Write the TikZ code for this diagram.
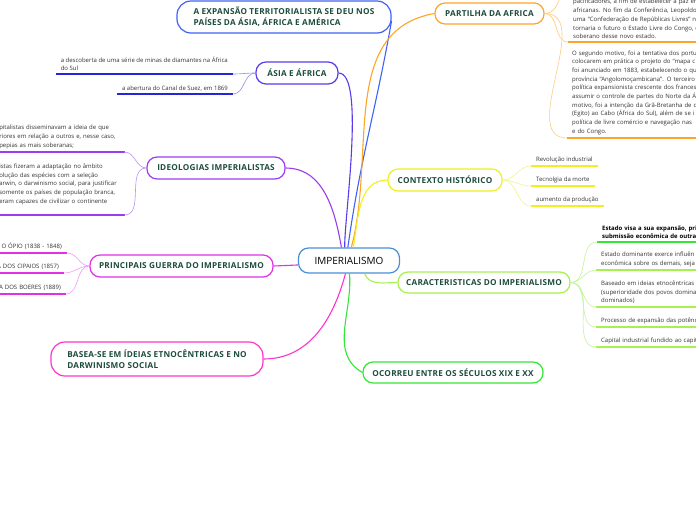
\documentclass[tikz,border=0pt]{standalone}
\usepackage{fontspec}
\setmainfont{Open Sans}
\newfontfamily\titlefam{Open Sans}[LetterSpace=3]
\usetikzlibrary{positioning}

\definecolor{titlegreen}{HTML}{1D4D3C}
\definecolor{leafgray}{HTML}{333333}
\definecolor{impblue}{HTML}{4A8FD6}
\definecolor{expblue}{HTML}{4063F5}
\definecolor{asiaviolet}{HTML}{5B3AEB}
\definecolor{asiablue}{HTML}{2525DD}
\definecolor{asialight}{HTML}{9090F2}
\definecolor{ideopurple}{HTML}{9B3CF0}
\definecolor{ideolight}{HTML}{B994F5}
\definecolor{guerramag}{HTML}{E030E8}
\definecolor{guerralight}{HTML}{F09CF5}
\definecolor{baseapink}{HTML}{FF33CC}
\definecolor{partorange}{HTML}{FFA526}
\definecolor{orangelight}{HTML}{FFCB7D}
\definecolor{ctxyellow}{HTML}{F0F020}
\definecolor{yellowlight}{HTML}{F5F585}
\definecolor{carlime}{HTML}{A8F050}
\definecolor{limelight}{HTML}{C4F39A}
\definecolor{ocogreen}{HTML}{36E636}

\newcommand\titlefont{\titlefam\fontsize{8.2}{11}\selectfont\bfseries}
\newcommand\leaffont{\fontsize{6}{8.7}\selectfont}

\begin{document}
\begin{tikzpicture}[x=1pt,y=-1pt,
  topic/.style={draw, fill=white, line width=1.2pt, rounded corners=10pt,
    font=\titlefont, text=titlegreen, inner sep=2pt},
  leaf/.style={font=\leaffont, text=leafgray, align=left,
    inner xsep=5pt, inner ysep=3pt},
  link/.style={line width=1.1pt},
  twig/.style={line width=0.6pt},
  under/.style={line width=2.2pt}]
\useasboundingbox (0,0) rectangle (696,520);
\clip (0,0) rectangle (696,520);
\fill[white] (0,0) rectangle (696,520);

\node[topic, draw=impblue, text=black, font=\fontsize{10}{12}\selectfont,
  minimum width=101pt, minimum height=25pt] (imp) at (349,260.5) {IMPERIALISMO};

\node[topic, draw=expblue, align=left, minimum width=214pt, minimum height=32pt,
  rounded corners=14pt] (exp) at (284,17)
  {A EXPANSÃO TERRITORIALISTA SE DEU NOS\\PAÍSES DA ÁSIA, ÁFRICA E AMÉRICA};
\node[topic, draw=asiaviolet, minimum width=82pt, minimum height=22pt] (asia) at (297,73) {ÁSIA E ÁFRICA};
\node[topic, draw=partorange, minimum width=109pt, minimum height=21pt] (partilha) at (489.5,13.5) {PARTILHA DA AFRICA};
\node[topic, draw=ideopurple, minimum width=138pt, minimum height=22pt] (ideo) at (216,168) {IDEOLOGIAS IMPERIALISTAS};
\node[topic, draw=ctxyellow, minimum width=114pt, minimum height=22pt] (contexto) at (445,180) {CONTEXTO HISTÓRICO};
\node[topic, draw=carlime, minimum width=172pt, minimum height=21pt] (caract) at (484,282.5) {CARACTERISTICAS DO IMPERIALISMO};
\node[topic, draw=guerramag, minimum width=183pt, minimum height=22pt] (guerras) at (181.5,266) {PRINCIPAIS GUERRA DO IMPERIALISMO};
\node[topic, draw=baseapink, align=left, minimum width=212pt, minimum height=34pt,
  rounded corners=14pt] (basea) at (157,359)
  {BASEA-SE EM ÍDEIAS ETNOCÊNTRICAS E NO\\DARWINISMO SOCIAL};
\node[topic, draw=ocogreen, minimum width=180pt, minimum height=21pt] (ocorreu) at (453,372.5) {OCORREU ENTRE OS SÉCULOS XIX E XX};

\draw[link, expblue] (imp.95) to[out=82,in=-100] (exp.-2);
\draw[link, asiaviolet] (imp.108) to[out=92,in=0,looseness=0.4] (asia.east);
\draw[link, partorange] (imp.80) to[out=75,in=190] (partilha.west);
\draw[link, ideopurple] (imp.120) to[out=100,in=0] (ideo.east);
\draw[link, ctxyellow] (imp.72) to[out=80,in=180] (contexto.west);
\draw[link, carlime] (imp.-40) to[out=-70,in=180] (caract.west);
\draw[link, ocogreen] (imp.-88) to[out=-85,in=150] (ocorreu.west);
\draw[link, baseapink] (imp.-105) to[out=-105,in=0] (basea.east);
\draw[link, guerramag] (imp.185) -- (guerras.east);

% asia e africa
\node[leaf, anchor=south east] (a1) at (233,74)
  {a descoberta de uma série de minas de diamantes na África\\do Sul};
\node[leaf, anchor=south east] (a2) at (233,94) {a abertura do Canal de Suez, em 1869};
\draw[under, asiablue] (a1.south west) -- (a1.south east);
\draw[under, asiablue] (a2.south west) -- (a2.south east);
\draw[twig, asialight] (asia.west) to[out=180,in=0] (a1.south east);
\draw[twig, asialight] (asia.west) to[out=180,in=0] (a2.south east);

% ideologias
\node[leaf, anchor=south east, text width=120pt] (i1) at (124.5,152)
  {pitalistas disseminavam a ideia de que\\riores em relação a outros e, nesse caso,\\pepias as mais soberanas;};
\node[leaf, anchor=south east, text width=120pt] (i2) at (124.5,215)
  {istas fizeram a adaptação no âmbito\\olução das espécies com a seleção\\arwin, o darwinismo social, para justificar\\somente os países de população branca,\\eram capazes de civilizar o continente\\\mbox{}};
\draw[under, ideopurple] (i1.south west) -- (i1.south east);
\draw[under, ideopurple] (i2.south west) -- (i2.south east);
\draw[twig, ideolight] (ideo.west) to[out=180,in=0] (i1.south east);
\draw[twig, ideolight] (ideo.west) to[out=180,in=0] (i2.south east);

% guerras
\node[leaf, anchor=south east, text width=70pt, align=right] (g1) at (67,253) {O ÓPIO (1838 - 1848)};
\node[leaf, anchor=south east, text width=70pt, align=right] (g2) at (64,273) {A DOS CIPAIOS (1857)};
\node[leaf, anchor=south east, text width=70pt, align=right] (g3) at (66,294) {A DOS BOERES (1889)};
\foreach \g in {g1,g2,g3}{
  \draw[under, guerramag] (\g.south west) -- (\g.south east);
  \draw[twig, guerralight] (guerras.west) to[out=180,in=0] (\g.south east);
}

% partilha
\coordinate (p0) at (578,-25);
\node[leaf, anchor=south west, text width=190pt] (p1) at (568,42)
  {pacificadores, a fim de estabelecer a paz ent\\africanas. No fim da Conferência, Leopoldo\\uma “Confederação de Repúblicas Livres” n\\tornaria o futuro o Estado Livre do Congo, o\\soberano desse novo estado.};
\node[leaf, anchor=south west, text width=190pt] (p2) at (567,138)
  {O segundo motivo, foi a tentativa dos portug\\colocarem em prática o projeto do “mapa c\\foi anunciado em 1883, estabelecendo o qu\\província “Angolomoçambicana”. O terceiro\\política expansionista crescente dos frances\\assumir o controle de partes do Norte da Á\\motivo, foi a intenção da Grã-Bretanha de d\\(Egito) ao Cabo (África do Sul), além de se i\\política de livre comércio e navegação nas\\e do Congo.};
\draw[under, partorange] (p1.south west) -- (p1.south east);
\draw[under, partorange] (p2.south west) -- (p2.south east);
\draw[twig, orangelight] (partilha.east) to[out=0,in=180] (p0);
\draw[twig, orangelight] (partilha.east) to[out=0,in=180] (p1.south west);
\draw[twig, orangelight] (partilha.east) to[out=0,in=180] (p2.south west);

% contexto
\node[leaf, anchor=south west] (c1) at (531,166) {Revolução industrial};
\node[leaf, anchor=south west] (c2) at (531,186) {Tecnolgia da morte};
\node[leaf, anchor=south west] (c3) at (531,206) {aumento da produção};
\foreach \c in {c1,c2,c3}{
  \draw[under, ctxyellow] (\c.south west) -- (\c.south east);
  \draw[twig, yellowlight] (contexto.east) to[out=0,in=180] (\c.south west);
}

% caracteristicas
\node[leaf, anchor=south west, text width=160pt, font=\leaffont\bfseries, text=black] (k1) at (597,242)
  {Estado visa a sua expansão, prin\\submissão econômica de outra};
\node[leaf, anchor=south west, text width=160pt] (k2) at (596,270)
  {Estado dominante exerce influên\\econômica sobre os demais, seja};
\node[leaf, anchor=south west, text width=160pt] (k3) at (596,307)
  {Baseado em ideias etnocêntricas s\\(superioridade dos povos dominan\\dominados)};
\node[leaf, anchor=south west, text width=160pt] (k4) at (596,327) {Processo de expansão das potênc};
\node[leaf, anchor=south west, text width=160pt] (k5) at (596,347) {Capital industrial fundido ao capita};
\draw[under, ocogreen] (k1.south west) -- (k1.south east);
\foreach \k in {k2,k3,k4,k5}
  \draw[under, carlime] (\k.south west) -- (\k.south east);
\foreach \k in {k1,k2,k3,k4,k5}
  \draw[twig, limelight] (caract.east) to[out=0,in=180] (\k.south west);
\end{tikzpicture}
\end{document}
